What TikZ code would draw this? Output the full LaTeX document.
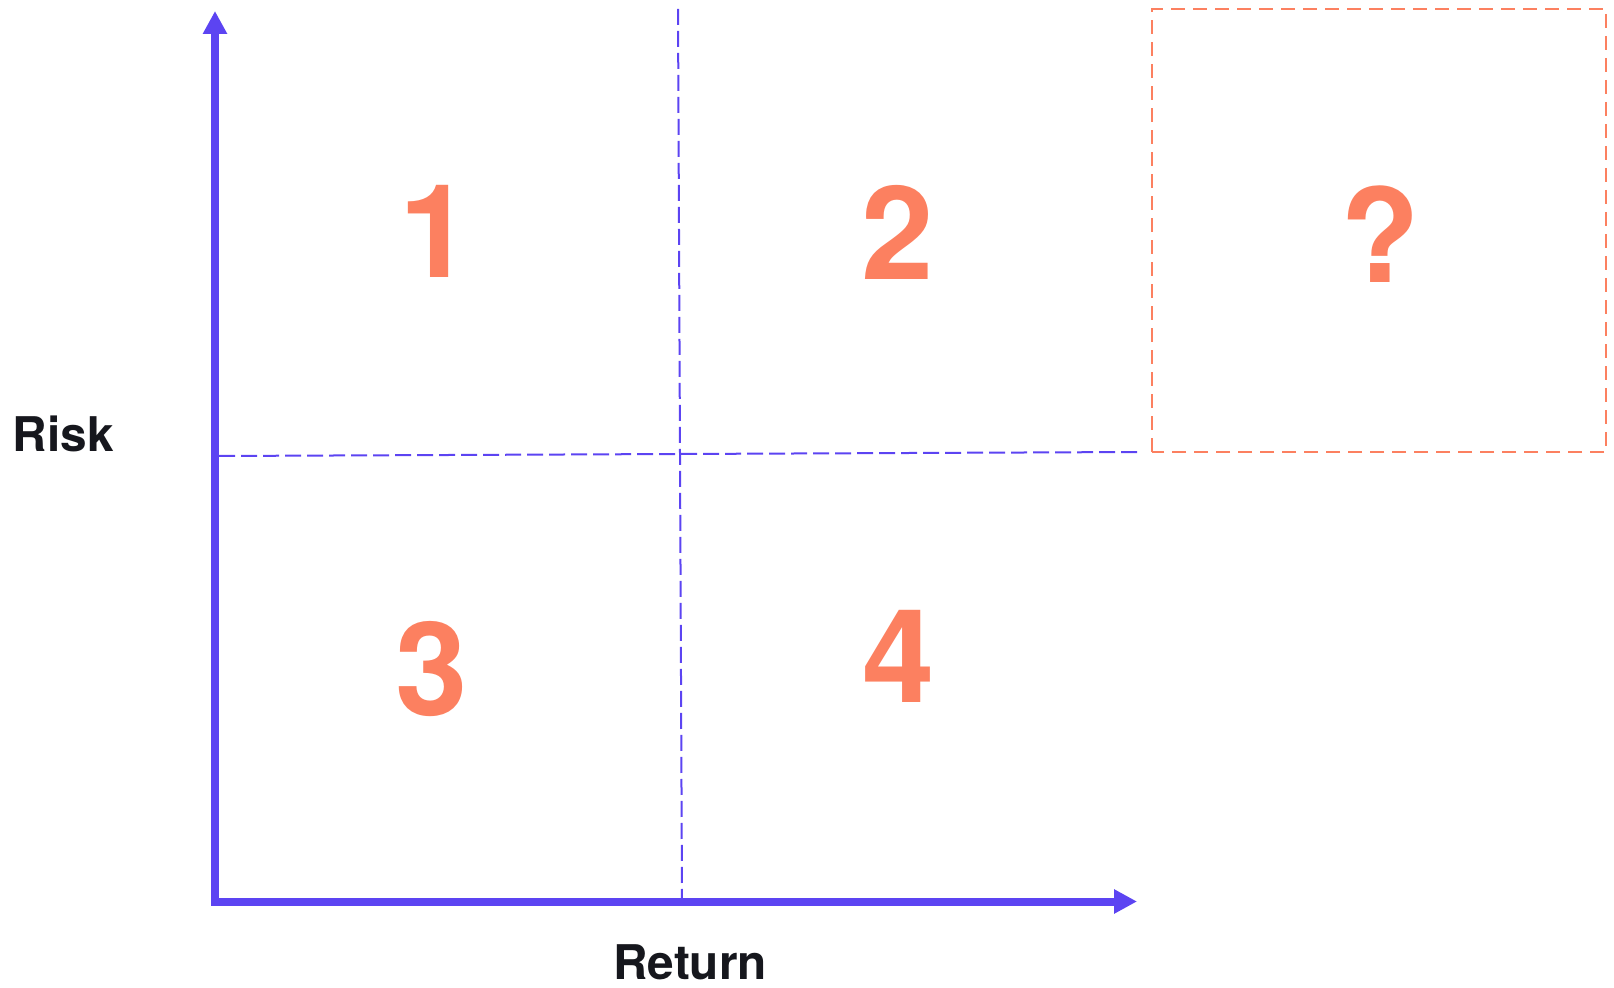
\documentclass[tikz,border=0pt]{standalone}
\usepackage{fontspec}
\setmainfont{TeX Gyre Heros}
\usetikzlibrary{arrows.meta}
\definecolor{axisblue}{RGB}{92,68,242}
\definecolor{coral}{RGB}{252,128,96}
\definecolor{inkdark}{RGB}{22,23,29}
\begin{document}
\begin{tikzpicture}[
  axis/.style={axisblue, line width=0.08cm, line join=miter, {Triangle[length=0.23cm,width=0.23cm]}-{Triangle[length=0.23cm,width=0.23cm]}},
  divider/.style={axisblue, line width=0.02cm, dash pattern=on 0.16cm off 0.06cm},
  qbox/.style={coral, line width=0.02cm, dash pattern=on 0.14cm off 0.08cm},
  quad/.style={coral, font=\fontsize{37}{37}\selectfont\bfseries, inner sep=0pt},
  axlabel/.style={inkdark, font=\fontsize{13.6}{14}\selectfont\bfseries, inner sep=0pt}]
\useasboundingbox (0,0) rectangle (16.14,9.87);
\coordinate (origin) at (2.15,0.855);
\coordinate (ytop) at (2.15,9.76);
\coordinate (xend) at (11.37,0.855);
\coordinate (vtop) at (6.78,9.78);
\coordinate (vbot) at (6.82,0.855);
\coordinate (hleft) at (2.19,5.31);
\coordinate (hright) at (11.40,5.35);
\draw[divider] (vtop) -- (vbot);
\draw[divider] (hleft) -- (hright);
\draw[qbox] (11.52,5.35) rectangle (16.06,9.78);
\draw[axis] (ytop) -- (origin) -- (xend);
\node[quad] (q1) at (4.36,7.555) {1};
\node[quad] (q2) at (8.98,7.55) {2};
\node[quad] (qx) at (13.80,7.53) {?};
\node[quad] (q3) at (4.315,3.175) {3};
\node[quad] (q4) at (8.985,3.305) {4};
\node[axlabel, anchor=base west] (risk) at (0.12,5.35) {Risk};
\node[axlabel, anchor=base] (ret) at (6.9,0.08) {Return};
\end{tikzpicture}
\end{document}
